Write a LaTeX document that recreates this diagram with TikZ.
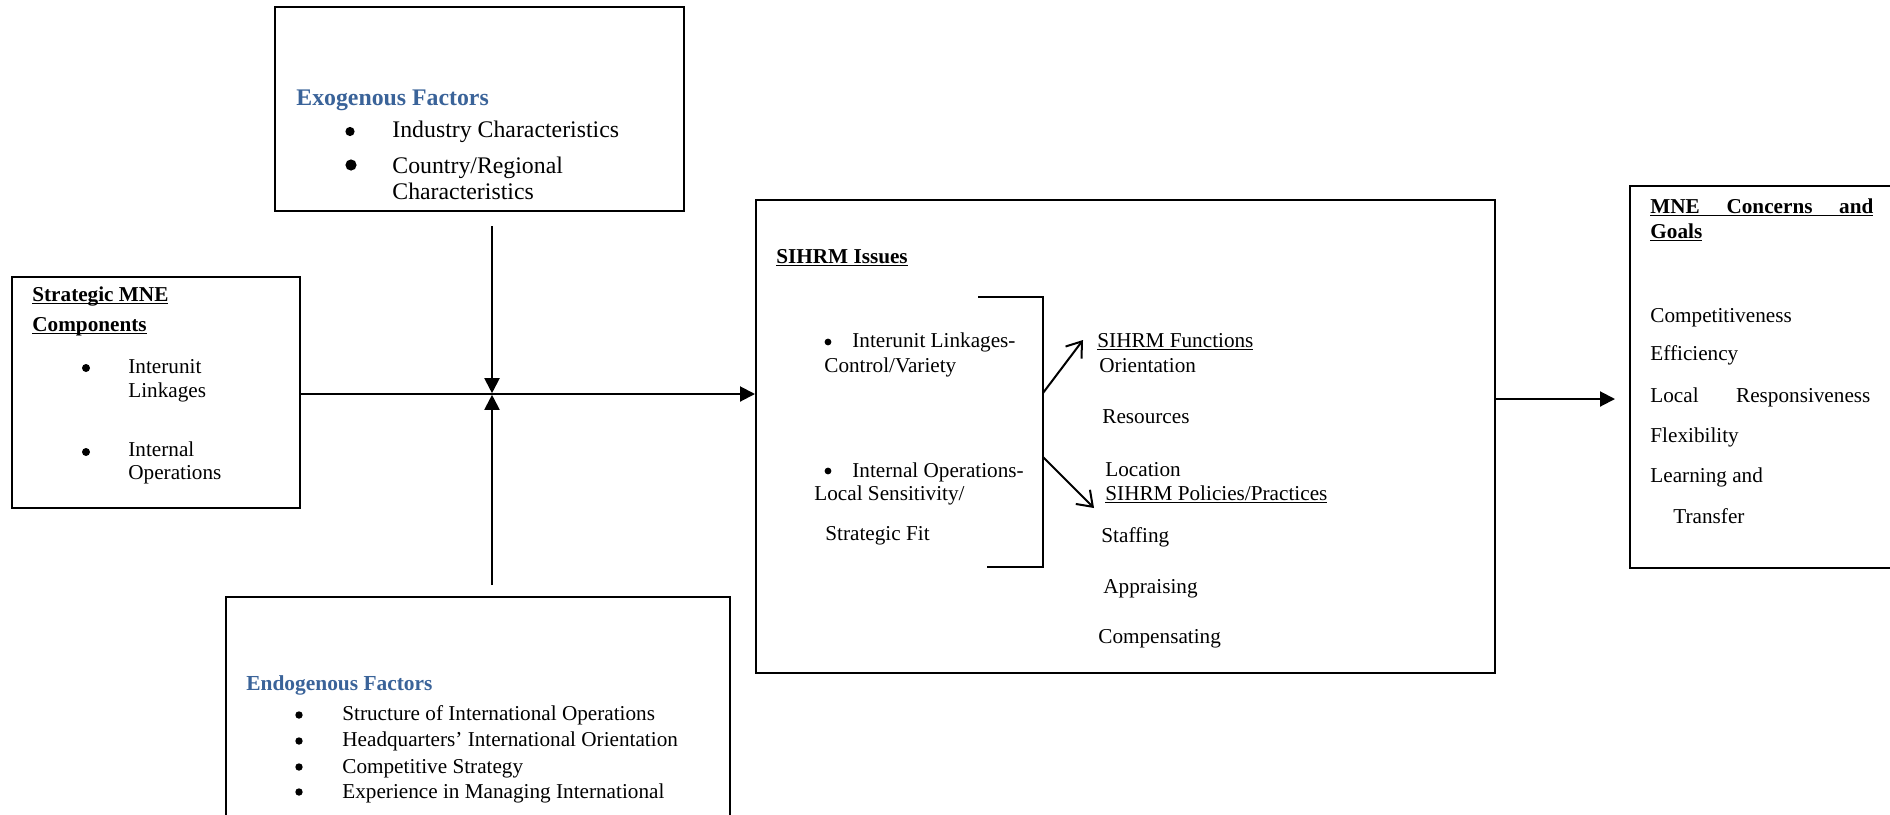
\documentclass[tikz,border=0pt]{standalone}
\usepackage{fontspec}
\setmainfont{Liberation Serif}
\usetikzlibrary{arrows.meta,fit}
\definecolor{headblue}{HTML}{3A6399}
% underline drawn at a fixed depth below the baseline
\newcommand\wordul[1]{\setbox0\hbox{#1}\rlap{\rule[-1.6pt]{\wd0}{0.6pt}}\box0}

\begin{document}
\begin{tikzpicture}[x=0.5pt,y=-0.5pt,
  frame/.style={draw, line width=1pt, inner sep=0pt},
  txt/.style={anchor=base west, inner sep=0pt, font=\fontsize{11.9}{14}\selectfont},
  stxt/.style={anchor=base west, inner sep=0pt, font=\fontsize{10.6}{12.5}\selectfont},
  sbold/.style={anchor=base west, inner sep=0pt, font=\fontsize{10.6}{12.5}\selectfont\bfseries},
  head/.style={anchor=base west, inner sep=0pt, text=headblue},
  dot/.style={fill=black},
  link/.style={line width=1pt},
  solidtip/.style={-{Triangle[length=7.5pt,width=7.5pt]}},
  opentip/.style={-{Straight Barb[length=7pt,width=10pt]}}]

\clip (0,0) rectangle (1890,814);
\fill[white] (0,0) rectangle (1890,814);

% ---------- boxes ----------
\node[frame, fit={(275,7) (684,211)}] (exo) {};
\node[frame, fit={(12,277) (300,508)}] (strat) {};
\node[frame, fit={(226,597) (730,840)}] (endo) {};
\node[frame, fit={(756,200) (1495,673)}] (sihrm) {};
\node[frame, fit={(1630,186) (1910,568)}] (mne) {};

% ---------- exogenous factors ----------
\node[head, font=\fontsize{11.9}{14}\selectfont\bfseries] (exoT) at (296,105) {Exogenous Factors};
\fill[dot] (350,131.5) circle (2.3pt);
\node[txt] (exoL1) at (392,137) {Industry Characteristics};
\fill[dot] (351,165) circle (2.8pt);
\node[txt] (exoL2) at (392,173) {Country/Regional};
\node[txt] (exoL3) at (392,199) {Characteristics};

% ---------- strategic MNE components ----------
\node[sbold] (smT1) at (32,301) {\wordul{Strategic MNE}};
\node[sbold] (smT2) at (32,331) {\wordul{Components}};
\fill[dot] (86,368) circle (2pt);
\node[stxt] (smL1) at (128,373) {Interunit};
\node[stxt] (smL2) at (128,397) {Linkages};
\fill[dot] (86,452) circle (2pt);
\node[stxt] (smL3) at (128,456) {Internal};
\node[stxt] (smL4) at (128,479) {Operations};

% ---------- endogenous factors ----------
\node[head, font=\fontsize{10.7}{12.5}\selectfont\bfseries] (enT) at (246,690) {Endogenous Factors};
\fill[dot] (299,715) circle (1.85pt);
\node[stxt] (enL1) at (342,720) {Structure of International Operations};
\fill[dot] (299,741) circle (1.85pt);
\node[stxt] (enL2) at (342,746) {Headquarters’ International Orientation};
\fill[dot] (299,767) circle (1.85pt);
\node[stxt] (enL3) at (342,773) {Competitive Strategy};
\fill[dot] (299,792) circle (1.85pt);
\node[stxt] (enL4) at (342,798) {Experience in Managing International};

% ---------- SIHRM issues ----------
\node[sbold] (siT) at (776,263) {\wordul{SIHRM Issues}};
\fill[dot] (828,342) circle (1.7pt);
\node[stxt] (siL1) at (852,347) {Interunit Linkages-};
\node[stxt] (siL2) at (824,372) {Control/Variety};
\fill[dot] (828,471) circle (1.7pt);
\node[stxt] (siL3) at (852,477) {Internal Operations-};
\node[stxt] (siL4) at (814,500) {Local Sensitivity/};
\node[stxt] (siL5) at (825,540) {Strategic Fit};

\node[stxt] (fnT) at (1097,347) {\wordul{SIHRM Functions}};
\node[stxt] (fn1) at (1099,372) {Orientation};
\node[stxt] (fn2) at (1102,423) {Resources};
\node[stxt] (fn3) at (1105,476) {Location};
\node[stxt] (ppT) at (1105,500) {\wordul{SIHRM Policies/Practices}};
\node[stxt] (pp1) at (1101,542) {Staffing};
\node[stxt] (pp2) at (1103,593) {Appraising};
\node[stxt] (pp3) at (1098,643) {Compensating};

% bracket grouping the two issues, with arrows out to functions and practices
\coordinate (brTop) at (1043,297);
\coordinate (brBot) at (1043,567);
\coordinate (brUp) at (1043,393);
\coordinate (brDn) at (1043,457);
\coordinate (fnTip) at (1083,340);
\coordinate (ppTip) at (1094,508);
\draw[link] (978,297) -- (brTop) -- (brBot) -- (987,567);
\draw[link, opentip] (brUp) -- (fnTip);
\draw[link, opentip] (brDn) -- (ppTip);

% ---------- MNE concerns and goals ----------
\node[sbold] (mnT1) at (1650,213) {\wordul{\makebox[111.5pt][s]{MNE\hfill Concerns\hfill and}}};
\node[sbold] (mnT2) at (1650,238) {\wordul{Goals}};
\node[stxt] (mn1) at (1650,322) {Competitiveness};
\node[stxt] (mn2) at (1650,360) {Efficiency};
\node[stxt] (mn3) at (1650,402) {\makebox[110pt][s]{Local\hfill Responsiveness}};
\node[stxt] (mn4) at (1650,442) {Flexibility};
\node[stxt] (mn5) at (1650,482) {Learning and};
\node[stxt] (mn6) at (1673,523) {Transfer};

% ---------- connectors ----------
\coordinate (j) at (492,394);
\coordinate (exoStub) at (492,226);
\coordinate (endoStub) at (492,585);
\draw[link, solidtip] (strat.east |- j) -- (sihrm.west |- j);
\draw[link, solidtip] (exoStub) -- ([yshift=0.4pt]j);
\draw[link, solidtip] (endoStub) -- ([yshift=-0.4pt]j);
\coordinate (out) at (1495,399);
\draw[link, solidtip] (sihrm.east |- out) -- ([xshift=-7pt]mne.west |- out);
\end{tikzpicture}
\end{document}
